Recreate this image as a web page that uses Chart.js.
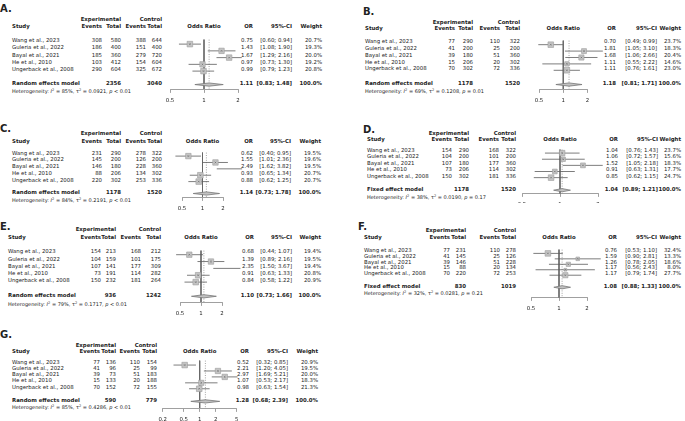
<!DOCTYPE html>
<html>
<head>
<meta charset="utf-8">
<script src="https://cdn.jsdelivr.net/npm/chart.js@4.4.0/dist/chart.umd.min.js"></script>
<style>
  body { margin: 0; background: #fff; }
  #page { position: relative; width: 685px; height: 421px; overflow: hidden; font-family: 'DejaVu Sans', sans-serif; color: #222; }
  .panel { position: absolute; overflow: hidden; }
  .t { position: absolute; white-space: nowrap; line-height: 1; font-size: 5.4px; }
  .b { font-weight: bold; }
  .lab { font-size: 10px; font-weight: bold; }
  .het { font-size: 5px; }
  .het sup { font-size: 70%; line-height: 0; vertical-align: 0.35em; }
  canvas { position: absolute; }
</style>
</head>
<body>
<div id="page"></div>
<script>
const studyNames = ['Wang et al., 2023', 'Guleria et al., 2022', 'Bayal et al., 2021', 'He et al., 2010', 'Ungerback et al., 2008'];

// A.
const aExpEvents = [308, 186, 185, 103, 290];
const aExpTotal = [580, 400, 360, 412, 604];
const aCtrlEvents = [388, 151, 279, 154, 325];
const aCtrlTotal = [644, 400, 720, 604, 672];
const aOR = [0.75, 1.43, 1.67, 0.97, 0.99];
const aLower = [0.60, 1.08, 1.29, 0.73, 0.79];
const aUpper = [0.94, 1.90, 2.16, 1.30, 1.23];
const aWeight = [20.7, 19.3, 20.0, 19.2, 20.8];
const aPooled = [1.11, 0.83, 1.48];
const aTotals = [2356, 3040];
const aHet = ['85%', '0.0921', '< 0.01'];

// B.
const bExpEvents = [77, 41, 39, 15, 70];
const bExpTotal = [290, 200, 180, 206, 302];
const bCtrlEvents = [110, 25, 51, 20, 72];
const bCtrlTotal = [322, 200, 360, 302, 336];
const bOR = [0.70, 1.81, 1.68, 1.11, 1.11];
const bLower = [0.49, 1.05, 1.06, 0.55, 0.76];
const bUpper = [0.99, 3.10, 2.66, 2.22, 1.61];
const bWeight = [23.7, 18.3, 20.4, 14.6, 23.0];
const bPooled = [1.18, 0.81, 1.71];
const bTotals = [1178, 1520];
const bHet = ['69%', '0.1208', '= 0.01'];

// C.
const cExpEvents = [231, 145, 146, 88, 220];
const cExpTotal = [290, 200, 180, 206, 302];
const cCtrlEvents = [278, 126, 228, 134, 253];
const cCtrlTotal = [322, 200, 360, 302, 336];
const cOR = [0.62, 1.55, 2.49, 0.93, 0.88];
const cLower = [0.40, 1.01, 1.62, 0.65, 0.62];
const cUpper = [0.95, 2.36, 3.82, 1.34, 1.25];
const cWeight = [19.5, 19.6, 19.5, 20.7, 20.7];
const cPooled = [1.14, 0.73, 1.78];
const cTotals = [1178, 1520];
const cHet = ['84%', '0.2191', '< 0.01'];

// D.
const dExpEvents = [154, 104, 107, 73, 150];
const dExpTotal = [290, 200, 180, 206, 302];
const dCtrlEvents = [168, 101, 177, 114, 181];
const dCtrlTotal = [322, 200, 360, 302, 336];
const dOR = [1.04, 1.06, 1.52, 0.91, 0.85];
const dLower = [0.76, 0.72, 1.05, 0.63, 0.62];
const dUpper = [1.43, 1.57, 2.18, 1.31, 1.15];
const dWeight = [23.7, 15.6, 18.3, 17.7, 24.7];
const dPooled = [1.04, 0.89, 1.21];
const dTotals = [1178, 1520];
const dHet = ['38%', '0.0190', '= 0.17'];

// E.
const eExpEvents = [154, 104, 107, 73, 150];
const eExpTotal = [213, 159, 141, 191, 232];
const eCtrlEvents = [168, 101, 177, 114, 181];
const eCtrlTotal = [212, 175, 309, 282, 264];
const eOR = [0.68, 1.39, 2.35, 0.91, 0.84];
const eLower = [0.44, 0.89, 1.50, 0.63, 0.58];
const eUpper = [1.07, 2.16, 3.67, 1.33, 1.22];
const eWeight = [19.4, 19.5, 19.4, 20.8, 20.9];
const ePooled = [1.10, 0.73, 1.66];
const eTotals = [936, 1242];
const eHet = ['79%', '0.1717', '< 0.01'];

// F.
const fExpEvents = [77, 41, 39, 15, 70];
const fExpTotal = [231, 145, 146, 88, 220];
const fCtrlEvents = [110, 25, 51, 20, 72];
const fCtrlTotal = [278, 126, 228, 134, 253];
const fOR = [0.76, 1.59, 1.26, 1.17, 1.17];
const fLower = [0.53, 0.90, 0.78, 0.56, 0.79];
const fUpper = [1.10, 2.81, 2.05, 2.43, 1.74];
const fWeight = [32.4, 13.3, 18.6, 8.0, 27.7];
const fPooled = [1.08, 0.88, 1.33];
const fTotals = [830, 1019];
const fHet = ['32%', '0.0281', '= 0.21'];

// G.
const gExpEvents = [77, 41, 39, 15, 70];
const gExpTotal = [136, 96, 73, 133, 152];
const gCtrlEvents = [110, 25, 51, 20, 72];
const gCtrlTotal = [154, 99, 183, 188, 155];
const gOR = [0.52, 2.21, 2.97, 1.07, 0.98];
const gLower = [0.32, 1.20, 1.69, 0.53, 0.63];
const gUpper = [0.85, 4.05, 5.21, 2.17, 1.54];
const gWeight = [20.9, 19.5, 20.0, 18.3, 21.3];
const gPooled = [1.28, 0.68, 2.39];
const gTotals = [590, 779];
const gHet = ['85%', '0.4286', '< 0.01'];

const ticksStd = [0.5, 1, 2];
const ticksWide = [0.2, 0.5, 1, 2, 5];

// page layout of each panel (pixels, page coordinates); box = visible region of the panel
const panels = [
  { id: 'A.', model: 'Random effects model', ticks: ticksStd,
    ev: [aExpEvents, aExpTotal, aCtrlEvents, aCtrlTotal], or: aOR, lo: aLower, hi: aUpper, w: aWeight, pooled: aPooled, totals: aTotals, het: aHet,
    lay: { box: [0, 0, 340, 110], label: [0, 8.5], h1: 20, h2: 27, row0: 41.3, step: 7.17, sum: 84.3, het: 90.7, study: 12, cols: [102, 121, 146, 162], orR: 253, ciR: 292, wR: 322, ax: [170, 238], axisY: 89, top: 36.5 } },
  { id: 'B.', model: 'Random effects model', ticks: ticksStd,
    ev: [bExpEvents, bExpTotal, bCtrlEvents, bCtrlTotal], or: bOR, lo: bLower, hi: bUpper, w: bWeight, pooled: bPooled, totals: bTotals, het: bHet,
    lay: { box: [340, 0, 345, 110], label: [363, 11.5], h1: 22.7, h2: 29.3, row0: 42.3, step: 6.75, sum: 84.3, het: 91, study: 365, cols: [455, 473, 500, 520], orR: 616, ciR: 657, wR: 681, ax: [539, 587.5], axisY: 89, top: 38 } },
  { id: 'C.', model: 'Random effects model', ticks: ticksStd,
    ev: [cExpEvents, cExpTotal, cCtrlEvents, cCtrlTotal], or: cOR, lo: cLower, hi: cUpper, w: cWeight, pooled: cPooled, totals: cTotals, het: cHet,
    lay: { box: [0, 110, 340, 105], label: [0, 129], h1: 134, h2: 141.7, row0: 153.7, step: 6.75, sum: 193.3, het: 200, study: 12, cols: [102, 121, 146, 162], orR: 253, ciR: 291, wR: 321, ax: [182, 223], axisY: 197, top: 150 } },
  { id: 'D.', model: 'Fixed effect model', ticks: ticksStd,
    ev: [dExpEvents, dExpTotal, dCtrlEvents, dCtrlTotal], or: dOR, lo: dLower, hi: dUpper, w: dWeight, pooled: dPooled, totals: dTotals, het: dHet,
    lay: { box: [340, 110, 345, 93], label: [363, 130], h1: 133.5, h2: 140, row0: 150.7, step: 6.5, sum: 190, het: 196.7, study: 367, cols: [452, 469, 499, 516], orR: 618, ciR: 658, wR: 681, ax: [522, 598], axisY: 193.5, top: 147 } },
  { id: 'E.', model: 'Random effects model', ticks: ticksStd,
    ev: [eExpEvents, eExpTotal, eCtrlEvents, eCtrlTotal], or: eOR, lo: eLower, hi: eUpper, w: eWeight, pooled: ePooled, totals: eTotals, het: eHet,
    lay: { box: [0, 215, 340, 105], label: [0, 227], h1: 230, h2: 238.3, row0: 252.3, step: 7.2, sum: 296, het: 304, study: 8, cols: [101, 116, 141, 161], orR: 254, ciR: 292, wR: 321, ax: [180, 222], axisY: 302, top: 248 } },
  { id: 'F.', model: 'Fixed effect model', ticks: ticksStd,
    ev: [fExpEvents, fExpTotal, fCtrlEvents, fCtrlTotal], or: fOR, lo: fLower, hi: fUpper, w: fWeight, pooled: fPooled, totals: fTotals, het: fHet,
    lay: { box: [340, 215, 345, 105], label: [358, 227], h1: 230.7, h2: 238.3, row0: 251, step: 5.75, sum: 286.7, het: 292.7, study: 364, cols: [450, 466, 500, 516], orR: 617, ciR: 657, wR: 681, ax: [531, 587], axisY: 297.5, top: 247 } },
  { id: 'G.', model: 'Random effects model', ticks: ticksWide,
    ev: [gExpEvents, gExpTotal, gCtrlEvents, gCtrlTotal], or: gOR, lo: gLower, hi: gUpper, w: gWeight, pooled: gPooled, totals: gTotals, het: gHet,
    lay: { box: [0, 320, 340, 101], label: [0, 335], h1: 346, h2: 352.3, row0: 362.7, step: 6.25, sum: 401, het: 407.3, study: 12, cols: [100, 116, 140, 157], orR: 249, ciR: 288, wR: 318, ax: [162.7, 236.7], axisY: 408, top: 358 } }
];

Chart.defaults.font.family = 'DejaVu Sans';
Chart.defaults.color = '#222';

const page = document.getElementById('page');

// x, y in page coordinates; the panel div holds its origin
function put(div, html, x, y, align, cls) {
  const ox = +div.dataset.ox, oy = +div.dataset.oy, w = +div.dataset.w;
  const s = document.createElement('span');
  s.className = 't ' + (cls || '');
  s.innerHTML = html;
  s.style.top = (y - oy) + 'px';
  if (align === 'right') {
    s.style.right = (ox + w - x) + 'px';
    s.style.transform = 'translateY(-50%)';
  } else if (align === 'center') {
    s.style.left = (x - ox) + 'px';
    s.style.transform = 'translate(-50%, -50%)';
  } else {
    s.style.left = (x - ox) + 'px';
    s.style.transform = 'translateY(-50%)';
  }
  div.appendChild(s);
}

const ci = (lo, hi) => '[' + lo.toFixed(2) + '; ' + hi.toFixed(2) + ']';

function drawTable(div, p) {
  const L = p.lay;
  put(div, p.id, L.label[0], L.label[1], 'left', 'lab');
  put(div, 'Experimental', L.cols[1], L.h1, 'right', 'b');
  put(div, 'Control', L.cols[3], L.h1, 'right', 'b');
  put(div, 'Study', L.study, L.h2, 'left', 'b');
  ['Events', 'Total', 'Events', 'Total'].forEach((h, i) => put(div, h, L.cols[i], L.h2, 'right', 'b'));
  const mid = (L.ax[0] + L.ax[1]) / 2;
  put(div, 'Odds Ratio', mid, L.h2, 'center', 'b');
  put(div, 'OR', L.orR, L.h2, 'right', 'b');
  put(div, '95%-CI', L.ciR, L.h2, 'right', 'b');
  put(div, 'Weight', L.wR, L.h2, 'right', 'b');

  studyNames.forEach((name, i) => {
    const y = L.row0 + i * L.step;
    put(div, name, L.study, y, 'left');
    p.ev.forEach((col, c) => put(div, String(col[i]), L.cols[c], y, 'right'));
    put(div, p.or[i].toFixed(2), L.orR, y, 'right');
    put(div, ci(p.lo[i], p.hi[i]), L.ciR, y, 'right');
    put(div, p.w[i].toFixed(1) + '%', L.wR, y, 'right');
  });

  put(div, p.model, L.study, L.sum, 'left', 'b');
  put(div, String(p.totals[0]), L.cols[1], L.sum, 'right', 'b');
  put(div, String(p.totals[1]), L.cols[3], L.sum, 'right', 'b');
  put(div, p.pooled[0].toFixed(2), L.orR, L.sum, 'right', 'b');
  put(div, ci(p.pooled[1], p.pooled[2]), L.ciR, L.sum, 'right', 'b');
  put(div, '100.0%', L.wR, L.sum, 'right', 'b');

  put(div, 'Heterogeneity: <i>I</i><sup>2</sup> = ' + p.het[0] + ', \u03c4<sup>2</sup> = ' + p.het[1] + ', <i>p</i> ' + p.het[2].replace('<', '&lt;'),
    L.study, L.het, 'left', 'het');
}

function drawForest(div, p) {
  const L = p.lay;
  const ox = L.box[0], oy = L.box[1];
  const idx = y => (y - L.row0) / L.step;
  const topIdx = idx(L.top), axisIdx = idx(L.axisY), sumIdx = idx(L.sum);
  const dh = 1.7 / L.step;

  const left = Math.round(L.ax[0] - 30), right = Math.round(L.ax[1] + 45);
  const top = Math.round(L.top - 2), bottom = Math.round(L.axisY + 16);
  const cv = document.createElement('canvas');
  cv.width = right - left; cv.height = bottom - top;
  cv.style.left = (left - ox) + 'px'; cv.style.top = (top - oy) + 'px';
  cv.style.width = (right - left) + 'px'; cv.style.height = (bottom - top) + 'px';
  div.appendChild(cv);

  const maxW = Math.max(...p.w);
  const sides = p.w.map(w => 5.6 * Math.sqrt(w / maxW));

  const datasets = [];
  datasets.push({ type: 'line', data: [{ x: 1, y: topIdx }, { x: 1, y: axisIdx }], borderColor: '#666', borderWidth: 0.9, pointRadius: 0, order: 7 });
  datasets.push({ type: 'line', data: [{ x: p.pooled[0], y: topIdx }, { x: p.pooled[0], y: axisIdx }], borderColor: '#9a9a9a', borderWidth: 0.9, borderDash: [1, 1.4], pointRadius: 0, order: 6 });
  p.or.forEach((v, i) => {
    datasets.push({ type: 'line', data: [{ x: p.lo[i], y: i }, { x: p.hi[i], y: i }], borderColor: '#5c5c5c', borderWidth: 0.8, pointRadius: 0, order: 5 });
  });
  datasets.push({ type: 'line',
    data: [{ x: p.pooled[1], y: sumIdx }, { x: p.pooled[0], y: sumIdx - dh }, { x: p.pooled[2], y: sumIdx }, { x: p.pooled[0], y: sumIdx + dh }, { x: p.pooled[1], y: sumIdx }],
    fill: 'shape', backgroundColor: '#c2c2c2', borderColor: '#777', borderWidth: 0.8, pointRadius: 0, order: 4 });
  datasets.push({ type: 'scatter', data: p.or.map((v, i) => ({ x: v, y: i })), pointStyle: 'rect',
    pointRadius: sides.map(s => s / Math.SQRT2), backgroundColor: '#c4c4c4', borderColor: '#9a9a9a', borderWidth: 0.6, order: 3 });
  datasets.push({ type: 'scatter', data: p.or.map((v, i) => ({ x: v, y: i })), pointStyle: 'crossRot',
    pointRadius: 1.1, borderColor: '#666', borderWidth: 0.6, order: 2 });
  datasets.forEach(d => { d.clip = false; d.tension = 0; });

  new Chart(cv, {
    type: 'scatter',
    data: { datasets },
    options: {
      responsive: false,
      animation: false,
      events: [],
      layout: { padding: { left: L.ax[0] - left, right: right - L.ax[1], top: L.top - top, bottom: bottom - L.axisY } },
      plugins: { legend: { display: false }, tooltip: { enabled: false } },
      scales: {
        x: {
          type: 'logarithmic',
          min: p.ticks[0],
          max: p.ticks[p.ticks.length - 1],
          position: { y: axisIdx },
          afterBuildTicks: s => { s.ticks = p.ticks.map(v => ({ value: v })); },
          ticks: { callback: v => String(v), font: { size: 5.4 }, color: '#222', padding: 5, maxRotation: 0, autoSkip: false },
          grid: { drawOnChartArea: false, drawTicks: true, tickLength: 3, color: '#888', lineWidth: 0.8 },
          border: { display: true, color: '#888', width: 0.8 }
        },
        y: { type: 'linear', display: false, reverse: true, min: topIdx, max: axisIdx }
      }
    }
  });
}

panels.forEach(p => {
  const [bx, by, bw, bh] = p.lay.box;
  const div = document.createElement('div');
  div.className = 'panel';
  div.style.left = bx + 'px'; div.style.top = by + 'px';
  div.style.width = bw + 'px'; div.style.height = bh + 'px';
  div.dataset.ox = bx; div.dataset.oy = by; div.dataset.w = bw;
  page.appendChild(div);
  drawTable(div, p);
  drawForest(div, p);
});
</script>
</body>
</html>
